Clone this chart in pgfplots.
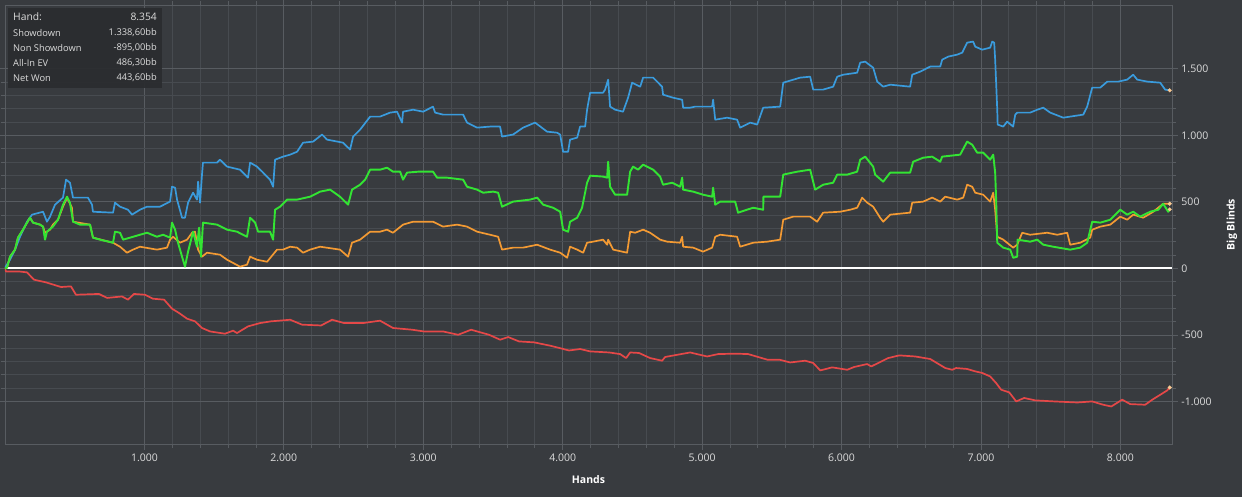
\documentclass[border=0pt]{standalone}
\usepackage{pgfplots}
\pgfplotsset{compat=1.18}
\usepackage{fontspec}
\setmainfont{Open Sans}
\definecolor{bg}{HTML}{383B3F}
\definecolor{gridmaj}{HTML}{585C61}
\definecolor{gridmin}{HTML}{474B50}
\definecolor{tickc}{HTML}{DCDCDC}
\definecolor{boxc}{HTML}{2A2C2F}
\definecolor{sdblue}{HTML}{3A9BDC}
\definecolor{nsdred}{HTML}{E54848}
\definecolor{evorange}{HTML}{F39A33}
\definecolor{netgreen}{HTML}{33E433}
\definecolor{dotc}{HTML}{F7C792}
\begin{document}
\begin{tikzpicture}[x=1pt,y=1pt]
\fill[bg] (0,0) rectangle (1242,497);
\path[use as bounding box] (0,0) rectangle (1242,497);
\begin{axis}[
  at={(5pt,53pt)}, anchor=south west,
  scale only axis, width=1167pt, height=439pt,
  xmin=0, xmax=8370, ymin=-1320, ymax=1980,
  axis line style={draw=gridmaj},
  xtick={1000,2000,...,8000}, minor x tick num=4,
  ytick={-1000,-500,0,500,1000,1500}, minor y tick num=4,
  grid=both,
  major grid style={draw=gridmaj, line width=0.8pt},
  minor grid style={draw=gridmin, line width=0.8pt},
  yticklabel pos=right,
  tick align=outside, major tick length=6pt, minor tick length=4pt,
  every tick/.style={draw=gridmaj, line width=0.8pt},
  ticklabel style={font=\fontsize{10.5}{13}\selectfont, text=tickc},
  /pgf/number format/1000 sep={.},
  /pgf/number format/assume math mode=true,
  xlabel={Hands}, ylabel={Big Blinds},
  every axis x label/.style={at={(axis description cs:0.5,-0.082)}, anchor=center, font=\fontsize{10.5}{13}\selectfont\bfseries, text=white},
  every axis y label/.style={at={(axis description cs:1.0514,0.5)}, anchor=center, rotate=90, font=\fontsize{10.5}{13}\selectfont\bfseries, text=white},
]
\addplot[white, line width=2.2pt] coordinates {(0,0) (8370,0)};
% Showdown (blue)
\addplot[sdblue, line width=1.7pt, line join=round] coordinates {
(0,5) (36,65) (72,141) (108,238) (158,351) (194,404) (273,426) (301,351) (323,389) (359,479) (416,532) (438,667) (466,644) (488,532) (595,532) (624,479) (631,426) (775,419) (789,494) (825,464) (882,441) (911,404) (968,441) (1019,464) (1112,464) (1184,502) (1198,614) (1220,607) (1234,517) (1270,381) (1291,381) (1313,494) (1349,569) (1377,517) (1385,652) (1399,494) (1413,705) (1420,795) (1521,795) (1542,817) (1593,765) (1686,742) (1743,682) (1758,795) (1808,765) (1851,720) (1901,667) (1923,614) (1937,817) (1994,840) (2045,855) (2095,877) (2138,945) (2210,953) (2274,1006) (2310,968) (2425,945) (2475,893) (2497,991) (2547,1043) (2619,1141) (2690,1141) (2762,1171) (2812,1178) (2848,1096) (2855,1178) (2927,1193) (2999,1178) (3070,1216) (3085,1171) (3142,1156) (3286,1156) (3314,1096) (3386,1058) (3479,1066) (3551,1066) (3565,991) (3644,1006) (3716,1058) (3802,1096) (3888,1028) (3960,1020) (3982,1006) (4003,877) (4039,877) (4053,968) (4104,983) (4125,1066) (4161,1066) (4175,1193) (4197,1321) (4290,1321) (4304,1344) (4326,1419) (4340,1216) (4376,1193) (4433,1178) (4469,1283) (4498,1396) (4556,1366) (4577,1434) (4649,1434) (4713,1366) (4720,1306) (4792,1283) (4857,1268) (4864,1208) (4914,1208) (4950,1216) (5072,1216) (5079,1268) (5094,1118) (5180,1133) (5251,1118) (5273,1058) (5345,1096) (5395,1081) (5438,1208) (5560,1216) (5582,1396) (5703,1434) (5775,1441) (5797,1344) (5868,1344) (5940,1366) (5969,1441) (6012,1456) (6112,1471) (6134,1547) (6170,1554) (6227,1509) (6256,1404) (6299,1366) (6349,1381) (6492,1366) (6507,1456) (6564,1479) (6636,1517) (6708,1517) (6722,1569) (6765,1592) (6830,1607) (6866,1622) (6901,1697) (6944,1705) (6959,1667) (7009,1644) (7066,1659) (7081,1705) (7095,1697) (7102,1569) (7117,1193) (7120,1081) (7160,1066) (7188,1103) (7231,1066) (7246,1156) (7260,1171) (7353,1171) (7404,1193) (7447,1208) (7497,1171) (7590,1133) (7640,1141) (7734,1156) (7762,1216) (7798,1359) (7856,1359) (7906,1404) (7985,1404) (8049,1419) (8092,1456) (8121,1419) (8193,1404) (8286,1396) (8321,1344) (8354,1338.6)
};
% Non Showdown (red)
\addplot[nsdred, line width=1.7pt, line join=round] coordinates {
(0,0) (7,-23) (100,-23) (158,-30) (208,-85) (294,-105) (402,-140) (473,-135) (509,-198) (674,-192) (732,-222) (839,-211) (882,-235) (925,-192) (1004,-198) (1062,-228) (1141,-235) (1198,-303) (1248,-335) (1306,-378) (1363,-398) (1413,-448) (1471,-474) (1578,-491) (1636,-468) (1664,-486) (1743,-436) (1829,-411) (1908,-398) (2045,-386) (2131,-423) (2267,-429) (2346,-386) (2432,-411) (2568,-411) (2690,-393) (2783,-448) (2920,-461) (3006,-474) (3142,-474) (3250,-499) (3343,-461) (3472,-499) (3551,-536) (3609,-516) (3687,-549) (3795,-556) (3910,-581) (4046,-617) (4125,-606) (4197,-624) (4333,-632) (4412,-644) (4455,-674) (4484,-632) (4548,-636) (4627,-674) (4713,-694) (4735,-666) (4850,-644) (4914,-632) (5036,-662) (5115,-644) (5237,-641) (5330,-644) (5467,-686) (5553,-686) (5632,-707) (5739,-694) (5797,-711) (5847,-767) (5933,-744) (6041,-762) (6091,-741) (6184,-719) (6213,-737) (6335,-674) (6414,-654) (6528,-662) (6636,-681) (6744,-749) (6794,-762) (6822,-749) (6901,-756) (6959,-774) (7009,-786) (7066,-812) (7109,-862) (7145,-912) (7203,-932) (7253,-1000) (7310,-974) (7389,-992) (7526,-1000) (7691,-1008) (7798,-1000) (7877,-1025) (7935,-1038) (8013,-987) (8071,-1020) (8178,-1025) (8229,-987) (8286,-950) (8336,-917) (8354,-895)
};
% All-In EV (orange)
\addplot[evorange, line width=1.7pt, line join=round] coordinates {
(0,0) (14,5) (36,88) (72,141) (93,231) (129,291) (179,381) (201,344) (251,329) (273,314) (287,268) (323,291) (344,329) (380,366) (416,464) (445,532) (480,456) (488,351) (610,329) (631,231) (775,193) (825,163) (875,118) (918,141) (968,163) (1090,141) (1162,156) (1184,216) (1205,238) (1255,193) (1306,216) (1342,268) (1363,276) (1385,141) (1413,88) (1449,118) (1542,103) (1593,65) (1636,41) (1686,13) (1736,28) (1758,88) (1808,65) (1880,50) (1951,141) (1994,141) (2045,163) (2095,156) (2138,118) (2188,141) (2260,163) (2403,141) (2461,88) (2489,193) (2547,216) (2619,276) (2690,276) (2740,291) (2783,268) (2855,329) (2927,351) (3070,351) (3142,314) (3243,329) (3314,314) (3386,276) (3479,253) (3537,238) (3565,141) (3644,156) (3716,156) (3817,178) (3910,141) (3982,118) (4032,80) (4053,163) (4104,141) (4147,118) (4175,193) (4218,201) (4290,216) (4319,178) (4326,216) (4362,141) (4462,118) (4484,276) (4520,268) (4577,291) (4627,268) (4699,216) (4749,201) (4842,193) (4857,238) (4864,163) (4936,156) (5007,126) (5072,156) (5094,238) (5130,253) (5251,238) (5273,163) (5366,193) (5467,201) (5560,216) (5582,366) (5653,389) (5775,389) (5825,351) (5868,419) (5990,426) (6062,441) (6112,456) (6148,532) (6184,494) (6227,464) (6277,381) (6299,351) (6349,404) (6492,419) (6507,494) (6586,502) (6650,532) (6708,502) (6744,539) (6830,517) (6873,532) (6901,629) (6937,614) (6959,569) (7016,554) (7066,502) (7088,569) (7102,441) (7117,238) (7160,216) (7231,156) (7260,178) (7296,268) (7353,253) (7475,268) (7547,253) (7619,268) (7640,178) (7712,193) (7784,231) (7798,291) (7856,314) (7928,329) (7999,389) (8049,366) (8092,404) (8164,381) (8236,426) (8307,486) (8354,486.3)
};
% Net Won (green)
\addplot[netgreen, line width=1.9pt, line join=round] coordinates {
(0,0) (14,5) (36,88) (72,141) (93,231) (129,291) (179,381) (201,344) (251,329) (273,314) (287,216) (301,276) (344,314) (380,366) (416,479) (445,539) (466,494) (488,351) (538,329) (610,329) (631,231) (682,216) (775,193) (789,276) (825,268) (847,216) (897,231) (968,253) (1019,268) (1090,238) (1134,253) (1184,231) (1198,344) (1220,291) (1241,193) (1270,88) (1291,13) (1313,126) (1349,276) (1377,163) (1392,306) (1406,88) (1420,344) (1521,329) (1593,291) (1664,276) (1736,238) (1758,381) (1794,344) (1815,276) (1901,276) (1923,216) (1937,441) (1973,464) (2023,517) (2095,517) (2188,539) (2260,577) (2332,592) (2403,539) (2461,479) (2489,592) (2547,629) (2583,667) (2619,742) (2690,742) (2740,757) (2783,727) (2834,727) (2855,667) (2884,720) (2963,727) (3070,727) (3099,682) (3171,682) (3286,667) (3314,614) (3386,592) (3429,569) (3501,577) (3537,569) (3565,464) (3644,502) (3766,517) (3817,532) (3860,479) (3931,456) (3982,426) (4003,291) (4039,276) (4053,351) (4104,381) (4139,456) (4175,644) (4197,697) (4290,690) (4319,682) (4326,802) (4340,614) (4376,554) (4462,554) (4484,727) (4505,765) (4541,742) (4577,780) (4649,742) (4699,690) (4720,629) (4785,644) (4842,614) (4857,682) (4864,592) (4936,577) (5007,554) (5072,539) (5079,607) (5094,479) (5130,502) (5237,502) (5258,419) (5366,456) (5438,441) (5440,539) (5560,539) (5582,705) (5682,727) (5775,742) (5811,592) (5868,629) (5940,644) (5969,705) (6041,705) (6112,727) (6134,817) (6170,840) (6227,765) (6241,705) (6299,652) (6349,720) (6492,720) (6514,802) (6586,832) (6650,840) (6708,802) (6722,840) (6851,855) (6901,953) (6937,930) (6973,870) (7016,870) (7066,817) (7088,855) (7102,720) (7109,517) (7117,193) (7160,156) (7210,141) (7231,80) (7260,88) (7263,216) (7353,201) (7404,216) (7447,178) (7518,163) (7640,141) (7712,156) (7762,193) (7798,351) (7856,344) (7928,366) (7999,441) (8049,404) (8092,426) (8142,389) (8214,426) (8272,441) (8307,486) (8343,426) (8354,443.6)
};
\addplot[only marks, mark=*, mark size=1.8pt, draw=dotc, fill=dotc] coordinates {(8354,1338.6) (8354,486.3) (8354,443.6) (8354,-895)};
\end{axis}
% summary box
\fill[boxc, opacity=0.92] (8,409) rectangle (162,489);
\begin{scope}[every node/.style={text=tickc, inner sep=0pt, font=\fontsize{9.3}{11}\selectfont}]
\node[anchor=west, font=\fontsize{10.3}{12}\selectfont] at (13,480) {Hand:};
\node[anchor=east, font=\fontsize{10.3}{12}\selectfont] at (157,480) {8.354};
\node[anchor=west] at (13,464) {Showdown};
\node[anchor=east] at (157,464) {1.338,60bb};
\node[anchor=west] at (13,449) {Non Showdown};
\node[anchor=east] at (157,449) {-895,00bb};
\node[anchor=west] at (13,434) {All-In EV};
\node[anchor=east] at (157,434) {486,30bb};
\node[anchor=west] at (13,419) {Net Won};
\node[anchor=east] at (157,419) {443,60bb};
\end{scope}
\end{tikzpicture}
\end{document}
